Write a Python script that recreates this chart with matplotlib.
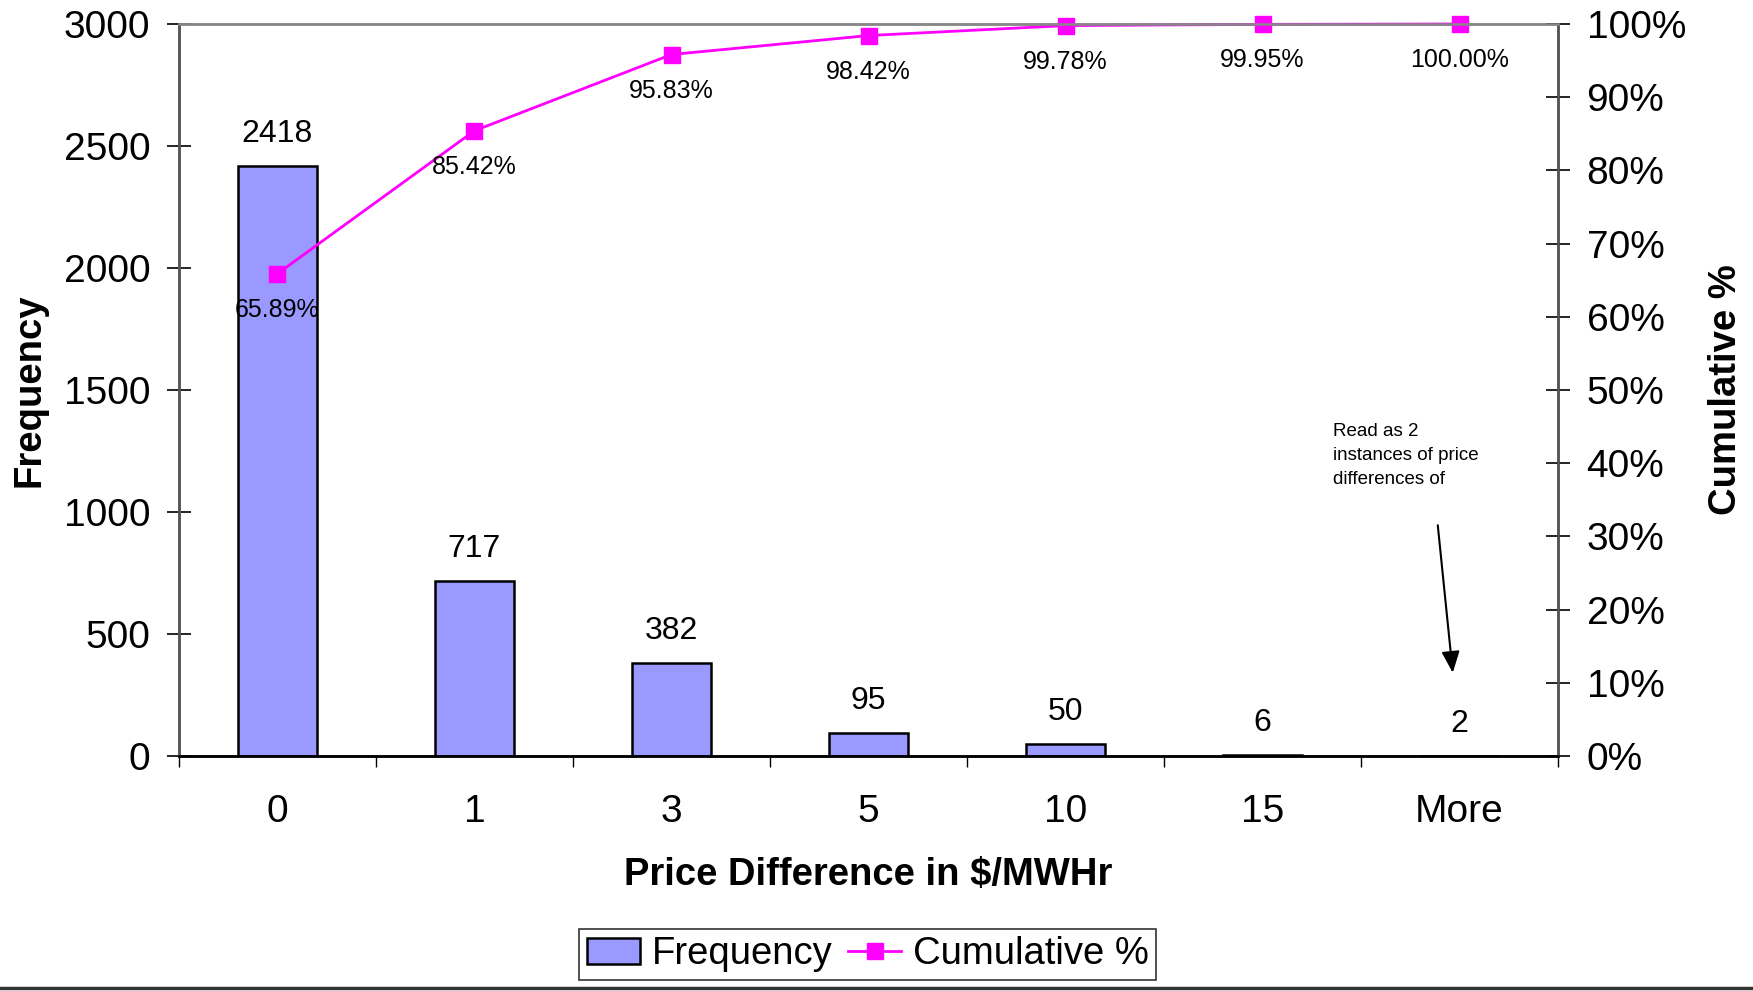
import matplotlib.pyplot as plt
from matplotlib.lines import Line2D
from matplotlib.ticker import FuncFormatter, FixedLocator

plt.rcParams['font.family'] = ['Liberation Sans', 'DejaVu Sans']

bins = ['0', '1', '3', '5', '10', '15', 'More']
frequency = [2418, 717, 382, 95, 50, 6, 2]
cumulative = [65.89, 85.42, 95.83, 98.42, 99.78, 99.95, 100.00]

fig = plt.figure(figsize=(17.53, 9.91), dpi=100)
ax = fig.add_axes([0.1021, 0.2371, 0.7867, 0.7387])
ax2 = ax.twinx()

x = list(range(len(bins)))
bars = ax.bar(x, frequency, width=0.4, color='#9999FF', edgecolor='black',
              linewidth=1.8, label='Frequency')
for xi, v in zip(x, frequency):
    ax.annotate(str(v), (xi, v), xytext=(0, 23), textcoords='offset points',
                ha='center', va='center', fontsize=23)

ax.set_xlim(-0.5, 6.5)
ax.set_ylim(0, 3000)
ax.set_yticks(range(0, 3001, 500))
ax.set_xticks(x)
ax.set_xticklabels(bins)
ax.xaxis.set_minor_locator(FixedLocator([i + 0.5 for i in range(-1, 7)]))
ax.tick_params(axis='x', which='major', length=0, labelsize=28, pad=27)
ax.tick_params(axis='x', which='minor', length=8, width=1, direction='out')
ax.tick_params(axis='y', length=17, width=1.2, direction='inout', labelsize=28, pad=12)
ax.set_xlabel('Price Difference in $/MWHr', fontsize=27.5, fontweight='bold', labelpad=20)
ax.set_ylabel('Frequency', fontsize=27.5, fontweight='bold', labelpad=12)

line, = ax2.plot(x, [c / 100 for c in cumulative], color='#FF00FF', lw=2,
                 marker='s', markersize=11, label='Cumulative %', clip_on=False)
for xi, c in zip(x, cumulative):
    ax2.annotate(f'{c:.2f}%', (xi, c / 100), xytext=(0, -26), textcoords='offset points',
                 ha='center', va='center', fontsize=18)
ax2.set_ylim(0, 1)
ax2.set_yticks([i / 10 for i in range(11)])
ax2.yaxis.set_major_formatter(FuncFormatter(lambda v, p: f'{v * 100:.0f}%'))
ax2.tick_params(axis='y', length=17, width=1.2, direction='inout', labelsize=28, pad=12)
ax2.set_ylabel('Cumulative %', fontsize=27.5, fontweight='bold', labelpad=16)

for a in (ax, ax2):
    a.spines['left'].set_color('#555555')
    a.spines['right'].set_color('#555555')
    a.spines['top'].set_color('#888888')
    a.spines['bottom'].set_color('black')
    for s in a.spines.values():
        s.set_linewidth(1.8)

ax.text(5.36, 1365, 'Read as 2\ninstances of price\ndifferences of', fontsize=13.5,
        ha='left', va='top', linespacing=1.55)
ax.annotate('', xy=(5.967, 330), xytext=(5.888, 957),
            arrowprops=dict(arrowstyle='-|>,head_length=1.3,head_width=0.55',
                            color='black', lw=1.5))

leg = fig.legend([bars, line], ['Frequency', 'Cumulative %'], loc='center',
                 bbox_to_anchor=(0.495, 0.037), ncol=2, fontsize=27.5, frameon=True,
                 fancybox=False, edgecolor='black', handlelength=1.4,
                 handletextpad=0.3, columnspacing=0.4, borderpad=0.2,
                 borderaxespad=0)
leg.get_frame().set_linewidth(1.2)

fig.add_artist(Line2D([0, 1], [0.003, 0.003], color='#333333', lw=2.5,
                      transform=fig.transFigure))

fig.savefig('out.png', dpi=100)
